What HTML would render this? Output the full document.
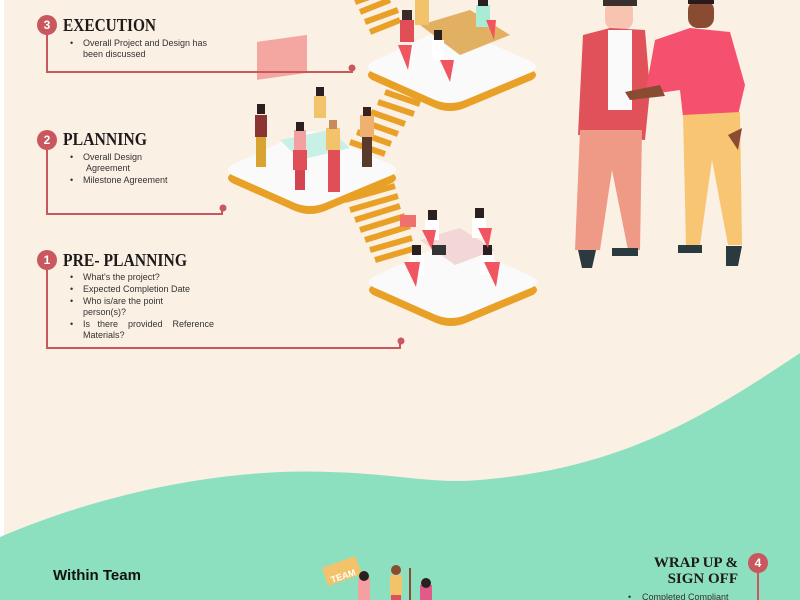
<!DOCTYPE html>
<html><head><meta charset="utf-8"><style>
html,body{margin:0;padding:0;width:800px;height:600px;overflow:hidden;background:#fbf0e4}
svg{display:block}
.h{font-family:"Liberation Serif",serif;font-weight:bold;fill:#1e1a1a}
.t{font-family:"Liberation Sans",sans-serif;font-size:9px;fill:#333}
</style></head><body>
<svg width="800" height="600" viewBox="0 0 800 600" xmlns="http://www.w3.org/2000/svg">
<rect width="800" height="600" fill="#fbf0e4"/>
<rect x="0" y="0" width="4" height="600" fill="#fff"/>
<path d="M0 537 C110 490 230 468 330 472 C400 474 430 484 480 480 C620 468 700 420 800 353 L800 600 L0 600 Z" fill="#8ce0c0"/>

<g stroke="#e9a026" stroke-width="6">
<line x1="355" y1="2" x2="378" y2="-6"/><line x1="360" y1="12" x2="390" y2="0"/><line x1="365" y1="22" x2="398" y2="10"/><line x1="370" y1="32" x2="400" y2="20"/>
<line x1="392" y1="82" x2="430" y2="96"/><line x1="385" y1="92" x2="420" y2="104"/><line x1="378" y1="102" x2="414" y2="114"/><line x1="371" y1="112" x2="405" y2="124"/><line x1="364" y1="122" x2="398" y2="134"/><line x1="357" y1="132" x2="391" y2="144"/><line x1="350" y1="142" x2="385" y2="154"/>
<line x1="345" y1="200" x2="395" y2="186"/><line x1="350" y1="210" x2="398" y2="196"/><line x1="355" y1="220" x2="400" y2="206"/><line x1="360" y1="230" x2="405" y2="216"/><line x1="365" y1="240" x2="410" y2="226"/><line x1="370" y1="250" x2="412" y2="238"/><line x1="375" y1="260" x2="416" y2="248"/>
</g>

<g>
<path d="M372 70 L440 38 Q450 34 460 38 L532 70 Q540 75 532 80 L465 108 Q450 114 435 108 L372 80 Q364 75 372 70Z" fill="#e9a026"/>
<path d="M372 62 L440 30 Q450 26 460 30 L532 62 Q540 67 532 72 L465 100 Q450 106 435 100 L372 72 Q364 67 372 62Z" fill="#fafafa"/>
<path d="M232 173 L300 141 Q310 137 320 141 L392 173 Q400 178 392 183 L325 211 Q310 217 295 211 L232 183 Q224 178 232 173Z" fill="#e9a026"/>
<path d="M232 165 L300 133 Q310 129 320 133 L392 165 Q400 170 392 175 L325 203 Q310 209 295 203 L232 175 Q224 170 232 165Z" fill="#fafafa"/>
<path d="M373 285 L441 253 Q451 249 461 253 L533 285 Q541 290 533 295 L466 323 Q451 329 436 323 L373 295 Q365 290 373 285Z" fill="#e9a026"/>
<path d="M373 277 L441 245 Q451 241 461 245 L533 277 Q541 282 533 287 L466 315 Q451 321 436 315 L373 287 Q365 282 373 277Z" fill="#fafafa"/>
</g>
<polygon points="420,25 470,10 510,35 460,55" fill="#e2b062"/>
<rect x="400" y="20" width="14" height="22" fill="#e04f58"/><rect x="402" y="10" width="10" height="10" fill="#3a2a2a"/>
<rect x="432" y="40" width="12" height="20" fill="#fff"/><rect x="434" y="30" width="8" height="10" fill="#2a2020"/>
<rect x="476" y="5" width="14" height="22" fill="#a8ecd6"/><rect x="478" y="0" width="10" height="6" fill="#2a2020"/>
<path d="M398 45 l14 0 -4 25 z M440 60 l14 0 -4 22z M486 20 l10 0 -2 20z" fill="#f05560"/>
<rect x="415" y="0" width="14" height="25" fill="#f2c36a"/>
<rect x="257" y="78" width="50" height="38" fill="#f3a7a0" transform="skewY(-8)"/>
<rect x="255" y="115" width="12" height="22" fill="#8a3434"/><rect x="257" y="104" width="8" height="10" fill="#2a2020"/>
<rect x="256" y="137" width="10" height="30" fill="#d8a330"/>
<rect x="314" y="96" width="12" height="22" fill="#f2c36a"/><rect x="316" y="87" width="8" height="9" fill="#2a2020"/>
<polygon points="280,140 330,130 350,148 300,160" fill="#c8f0e4"/>
<rect x="294" y="130" width="12" height="20" fill="#f4a0a0"/><rect x="296" y="122" width="8" height="9" fill="#2a2020"/>
<rect x="293" y="150" width="14" height="20" fill="#e04f58"/><rect x="295" y="170" width="10" height="20" fill="#d3454e"/>
<rect x="326" y="128" width="14" height="22" fill="#f2c36a"/><rect x="328" y="150" width="12" height="42" fill="#e04f58"/><rect x="329" y="120" width="8" height="9" fill="#c98a5e"/>
<rect x="360" y="115" width="14" height="22" fill="#f0b070"/><rect x="362" y="137" width="10" height="30" fill="#5a3a2a"/><rect x="363" y="107" width="8" height="9" fill="#3a2020"/>
<polygon points="420,240 460,228 495,250 455,265" fill="#f3d6d6"/>
<rect x="400" y="215" width="16" height="12" fill="#f07070"/>
<rect x="425" y="220" width="14" height="20" fill="#fff"/><rect x="428" y="210" width="9" height="10" fill="#2a2020"/>
<rect x="472" y="218" width="14" height="20" fill="#fff"/><rect x="475" y="208" width="9" height="10" fill="#2a2020"/>
<rect x="410" y="255" width="14" height="20" fill="#fff"/><rect x="412" y="245" width="9" height="10" fill="#2a2020"/>
<rect x="480" y="255" width="14" height="20" fill="#fff"/><rect x="483" y="245" width="9" height="10" fill="#2a2020"/>
<path d="M404 262 l16 0 -4 25z M484 262 l16 0 -4 25z M422 230 l14 0 -4 20z M478 228 l14 0 -4 20z" fill="#f05560"/>
<rect x="432" y="245" width="14" height="10" fill="#333"/>

<g>
<rect x="605" y="0" width="28" height="30" rx="10" fill="#f6c4b0"/>
<path d="M603 0 h34 v6 h-34z" fill="#3a3030"/>
<path d="M583 35 L610 28 L645 30 L650 90 L645 140 L578 135 Z" fill="#e0515a"/>
<rect x="608" y="30" width="24" height="80" fill="#fafafa"/>
<path d="M580 130 L642 130 L640 250 L628 250 L612 170 L600 250 L575 250 Z" fill="#ef9a86"/>
<path d="M578 250 h18 l-4 18 h-10z M612 248 h26 v8 h-26z" fill="#2b3a3e"/>
<rect x="688" y="0" width="26" height="28" rx="10" fill="#8a4b33"/>
<path d="M688 0 h26 v4 h-26z" fill="#2a1a1a"/>
<path d="M655 40 L690 28 L730 32 L745 85 L738 115 L683 117 L680 90 L645 95 Z" fill="#f5506e"/>
<path d="M683 115 L740 112 L742 245 L728 245 L712 160 L700 245 L686 245 Z" fill="#f8c673"/>
<path d="M728 135 L742 128 L738 150z" fill="#8a4b33"/>
<path d="M678 245 h24 v8 h-24z M726 246 h16 l-4 20 h-12z" fill="#2b3a3e"/>
<path d="M625 92 L660 85 L665 96 L630 100Z" fill="#8a4b33"/>
</g>

<g fill="none" stroke="#c9575e" stroke-width="2">
<polyline points="47,28 47,72 352,72 352,68"/>
<polyline points="47,142 47,214 222,214 222,210"/>
<polyline points="47,262 47,348 400,348 400,343"/>
<line x1="758" y1="570" x2="758" y2="600"/>
</g>
<g fill="#c9575e">
<circle cx="352" cy="68" r="3.5"/><circle cx="223" cy="208" r="3.5"/><circle cx="401" cy="341" r="3.5"/>
<circle cx="47" cy="25" r="10"/><circle cx="47" cy="140" r="10"/><circle cx="47" cy="260" r="10"/>
<circle cx="758" cy="563" r="10"/>
</g>
<g font-family="Liberation Sans,sans-serif" font-weight="bold" font-size="12" fill="#fff" text-anchor="middle">
<text x="47" y="29">3</text><text x="47" y="144">2</text><text x="47" y="264">1</text><text x="758" y="567">4</text>
</g>
<text class="h" x="63" y="31" font-size="18" textLength="93" lengthAdjust="spacingAndGlyphs">EXECUTION</text>
<text class="h" x="63" y="145" font-size="18" textLength="84" lengthAdjust="spacingAndGlyphs">PLANNING</text>
<text class="h" x="63" y="266" font-size="18" textLength="124" lengthAdjust="spacingAndGlyphs">PRE- PLANNING</text>
<g class="t">
<text x="70" y="46">•</text><text x="83" y="46">Overall Project and Design has</text><text x="83" y="57">been discussed</text>
<text x="70" y="160">•</text><text x="83" y="160">Overall Design</text><text x="86" y="171">Agreement</text>
<text x="70" y="183">•</text><text x="83" y="183">Milestone Agreement</text>
<text x="70" y="280">•</text><text x="83" y="280">What's the project?</text>
<text x="70" y="292">•</text><text x="83" y="292">Expected Completion Date</text>
<text x="70" y="304">•</text><text x="83" y="304">Who is/are the point</text><text x="83" y="315">person(s)?</text>
<text x="70" y="327">•</text><text x="83" y="327">Is&#160;&#160; there&#160;&#160;&#160; provided&#160;&#160;&#160; Reference</text><text x="83" y="338">Materials?</text>
<text x="628" y="600">•</text><text x="642" y="600">Completed Compliant</text>
</g>
<text class="h" x="738" y="567" font-size="15" text-anchor="end">WRAP UP &amp;</text>
<text class="h" x="738" y="583" font-size="15" text-anchor="end">SIGN OFF</text>
<text x="53" y="580" font-family="Liberation Sans,sans-serif" font-weight="bold" font-size="15" fill="#111">Within Team</text>
<polygon points="322,568 355,556 362,574 328,586" fill="#f2c36a"/>
<text x="330" y="580" font-family="Liberation Sans,sans-serif" font-weight="bold" font-size="9" fill="#fff" transform="rotate(-18 340 575)">TEAM</text>
<rect x="358" y="578" width="12" height="22" fill="#f4a0a0"/><circle cx="364" cy="576" r="5" fill="#2a2020"/>
<rect x="390" y="575" width="12" height="20" fill="#f2c36a"/><circle cx="396" cy="570" r="5" fill="#8a4b33"/><rect x="391" y="595" width="10" height="5" fill="#e04f58"/>
<line x1="410" y1="568" x2="410" y2="600" stroke="#8a4b33" stroke-width="2"/>
<rect x="420" y="585" width="12" height="15" fill="#e05a8a"/><circle cx="426" cy="583" r="5" fill="#2a2020"/>
</svg>
</body></html>
